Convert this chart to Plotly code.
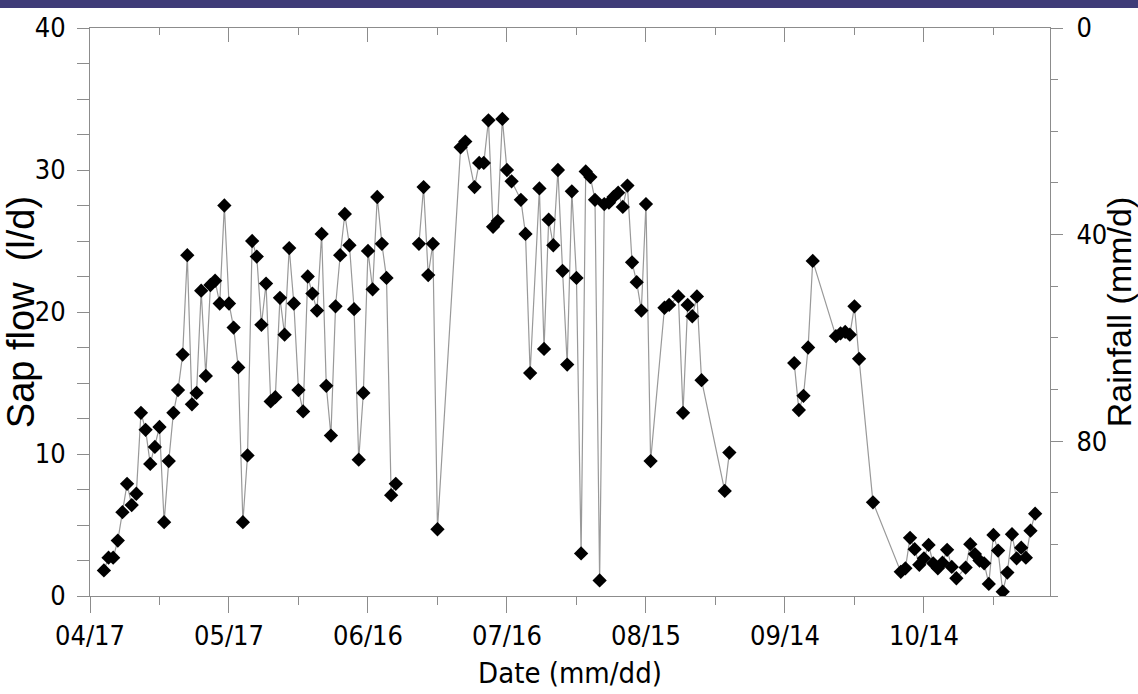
import pandas as pd
import plotly.graph_objects as go

year = "2010"
# None in sap_flow marks days without measurements (line is broken there)
dates = ["04/20","04/21","04/22","04/23","04/24","04/25","04/26","04/27","04/28","04/29","04/30",
         "05/01","05/02","05/03","05/04","05/05","05/06","05/07","05/08","05/09","05/10",
         "05/11","05/12","05/13","05/14","05/15","05/16","05/17","05/18","05/19","05/20",
         "05/21","05/22","05/23","05/24","05/25","05/26","05/27","05/28","05/29","05/30","05/31",
         "06/01","06/02","06/03","06/04","06/05","06/06","06/07","06/08","06/09","06/10",
         "06/11","06/12","06/13","06/14","06/15","06/16","06/17","06/18","06/19","06/20",
         "06/21","06/22","06/24","06/27","06/28","06/29","06/30","07/01",
         "07/06","07/07","07/09","07/10","07/11","07/12","07/13","07/14","07/15","07/16",
         "07/17","07/19","07/20","07/21","07/23","07/24","07/25","07/26","07/27","07/28",
         "07/29","07/30","07/31",
         "08/01","08/02","08/03","08/04","08/05","08/06","08/07","08/08","08/09","08/10",
         "08/11","08/12","08/13","08/14","08/15","08/16","08/19","08/20","08/22","08/23",
         "08/24","08/25","08/26","08/27","09/01","09/02","09/09",
         "09/16","09/17","09/18","09/19","09/20","09/25","09/26","09/27","09/28","09/29","09/30",
         "10/03","10/09","10/10","10/11","10/12","10/13","10/14","10/15","10/16","10/17",
         "10/18","10/19","10/20","10/21","10/23","10/24","10/25","10/26","10/27","10/28",
         "10/29","10/30","10/31","11/01","11/02","11/03","11/04","11/05","11/06","11/07"]

sap_flow = [1.8, 2.7, 2.7, 3.9, 5.9, 7.9, 6.4, 7.2, 12.9, 11.7, 9.3,
            10.5, 11.9, 5.2, 9.5, 12.9, 14.5, 17.0, 24.0, 13.5, 14.3,
            21.5, 15.5, 21.9, 22.2, 20.6, 27.5, 20.6, 18.9, 16.1, 5.2,
            9.9, 25.0, 23.9, 19.1, 22.0, 13.7, 14.0, 21.0, 18.4, 24.5, 20.6,
            14.5, 13.0, 22.5, 21.3, 20.1, 25.5, 14.8, 11.3, 20.4, 24.0,
            26.9, 24.7, 20.2, 9.6, 14.3, 24.3, 21.6, 28.1, 24.8, 22.4,
            7.1, 7.9, None, 24.8, 28.8, 22.6, 24.8, 4.7,
            31.6, 32.0, 28.8, 30.5, 30.5, 33.5, 26.0, 26.4, 33.6, 30.0,
            29.2, 27.9, 25.5, 15.7, 28.7, 17.4, 26.5, 24.7, 30.0, 22.9,
            16.3, 28.5, 22.4,
            3.0, 29.9, 29.5, 27.9, 1.1, 27.6, 27.7, 28.1, 28.4, 27.4,
            28.9, 23.5, 22.1, 20.1, 27.6, 9.5, 20.3, 20.5, 21.1, 12.9,
            20.5, 19.7, 21.1, 15.2, 7.4, 10.1, None,
            16.4, 13.1, 14.1, 17.5, 23.6, 18.3, 18.5, 18.6, 18.4, 20.4, 16.7,
            6.6, 1.7, 1.95, 4.1, 3.3, 2.2, 2.65, 3.6, 2.3, 1.95,
            2.35, 3.25, 2.05, 1.25, 2.0, 3.65, 2.95, 2.5, 2.3, 0.85,
            4.3, 3.2, 0.3, 1.65, 4.35, 2.65, 3.4, 2.7, 4.6, 5.8]

rainfall_dates = []
rainfall = []

x_tick_labels = ["04/17", "05/17", "06/16", "07/16", "08/15", "09/14", "10/14"]
x_range = ["2010-04-17", "2010-11-10 05:00"]
y_left_range = [0, 40]
y_right_range = [110, 0]
y_right_ticks = [0, 40, 80]

x = pd.to_datetime([f"{year}/{d}" for d in dates])
major = pd.to_datetime([f"{year}/{d}" for d in x_tick_labels])
minor = [m + pd.Timedelta(days=15) for m in major]

tick_font = dict(family="DejaVu Sans Condensed, Liberation Sans Narrow, Arial Narrow, sans-serif",
                 size=27, color="black")
xtitle_font = dict(family="DejaVu Sans Condensed, Liberation Sans Narrow, Arial Narrow, sans-serif",
                   size=29, color="black")
title_font_left = dict(family="Liberation Sans, Arial, sans-serif", size=38, color="black")
title_font_right = dict(family="Liberation Sans, Arial, sans-serif", size=34, color="black")
axis_col = "#8c8c8c"

fig = go.Figure()
fig.add_trace(go.Scatter(
    x=x, y=sap_flow, mode="lines+markers", connectgaps=False,
    line=dict(color="#999999", width=1.2),
    marker=dict(symbol="diamond", size=11, color="black", line=dict(width=0)),
    showlegend=False, hoverinfo="skip"))
# rainfall axis (no rainfall values shown in this panel)
fig.add_trace(go.Scatter(x=rainfall_dates, y=rainfall, yaxis="y2", mode="lines",
                         showlegend=False))
# top mirror axis
fig.add_trace(go.Scatter(x=rainfall_dates, y=rainfall, xaxis="x2", mode="lines",
                         showlegend=False))

fig.update_layout(
    width=1138, height=694,
    margin=dict(l=90, r=88, t=28, b=98, autoexpand=False),
    paper_bgcolor="white", plot_bgcolor="white",
    xaxis=dict(
        type="date", range=x_range, automargin=False,
        tickmode="array", tickvals=major, ticktext=x_tick_labels,
        ticks="outside", ticklen=16, tickcolor=axis_col, tickwidth=1,
        minor=dict(tickvals=minor, ticks="outside", ticklen=8, tickcolor=axis_col),
        showline=True, linecolor=axis_col, linewidth=1,
        showgrid=False, zeroline=False,
        tickfont=tick_font,
        title=dict(text="Date (mm/dd)", font=xtitle_font, standoff=12),
    ),
    xaxis2=dict(
        type="date", range=x_range, overlaying="x", side="top", anchor="y",
        automargin=False,
        tickmode="array", tickvals=major, showticklabels=False,
        ticks="inside", ticklen=14, tickcolor=axis_col,
        minor=dict(tickvals=minor, ticks="inside", ticklen=7, tickcolor=axis_col),
        showline=True, linecolor=axis_col, linewidth=1,
        showgrid=False, zeroline=False,
    ),
    yaxis=dict(
        range=y_left_range, tickmode="linear", tick0=0, dtick=10, automargin=False,
        ticks="outside", ticklen=12, tickcolor=axis_col, ticklabelstandoff=6,
        minor=dict(dtick=2.5, ticks="outside", ticklen=12, tickcolor=axis_col),
        showline=True, linecolor=axis_col, linewidth=1,
        showgrid=False, zeroline=False,
        tickfont=tick_font,
        title=dict(text="Sap flow  (l/d)", font=title_font_left, standoff=4),
    ),
    yaxis2=dict(
        range=y_right_range, overlaying="y", side="right", anchor="x", automargin=False,
        tickmode="array", tickvals=y_right_ticks,
        ticks="outside", ticklen=12, tickcolor=axis_col, ticklabelstandoff=8,
        minor=dict(dtick=10, ticks="outside", ticklen=7, tickcolor=axis_col),
        showline=True, linecolor=axis_col, linewidth=1,
        showgrid=False, zeroline=False,
        tickfont=tick_font,
        title=dict(text="Rainfall (mm/d)", font=title_font_right, standoff=2),
    ),
    shapes=[dict(type="rect", xref="paper", yref="paper",
                 x0=-0.1, x1=1.1, y0=1 + 20 / 568, y1=1 + 30 / 568,
                 fillcolor="#3f3c78", line=dict(width=0), layer="above")],
)

fig.write_html("out.html")
